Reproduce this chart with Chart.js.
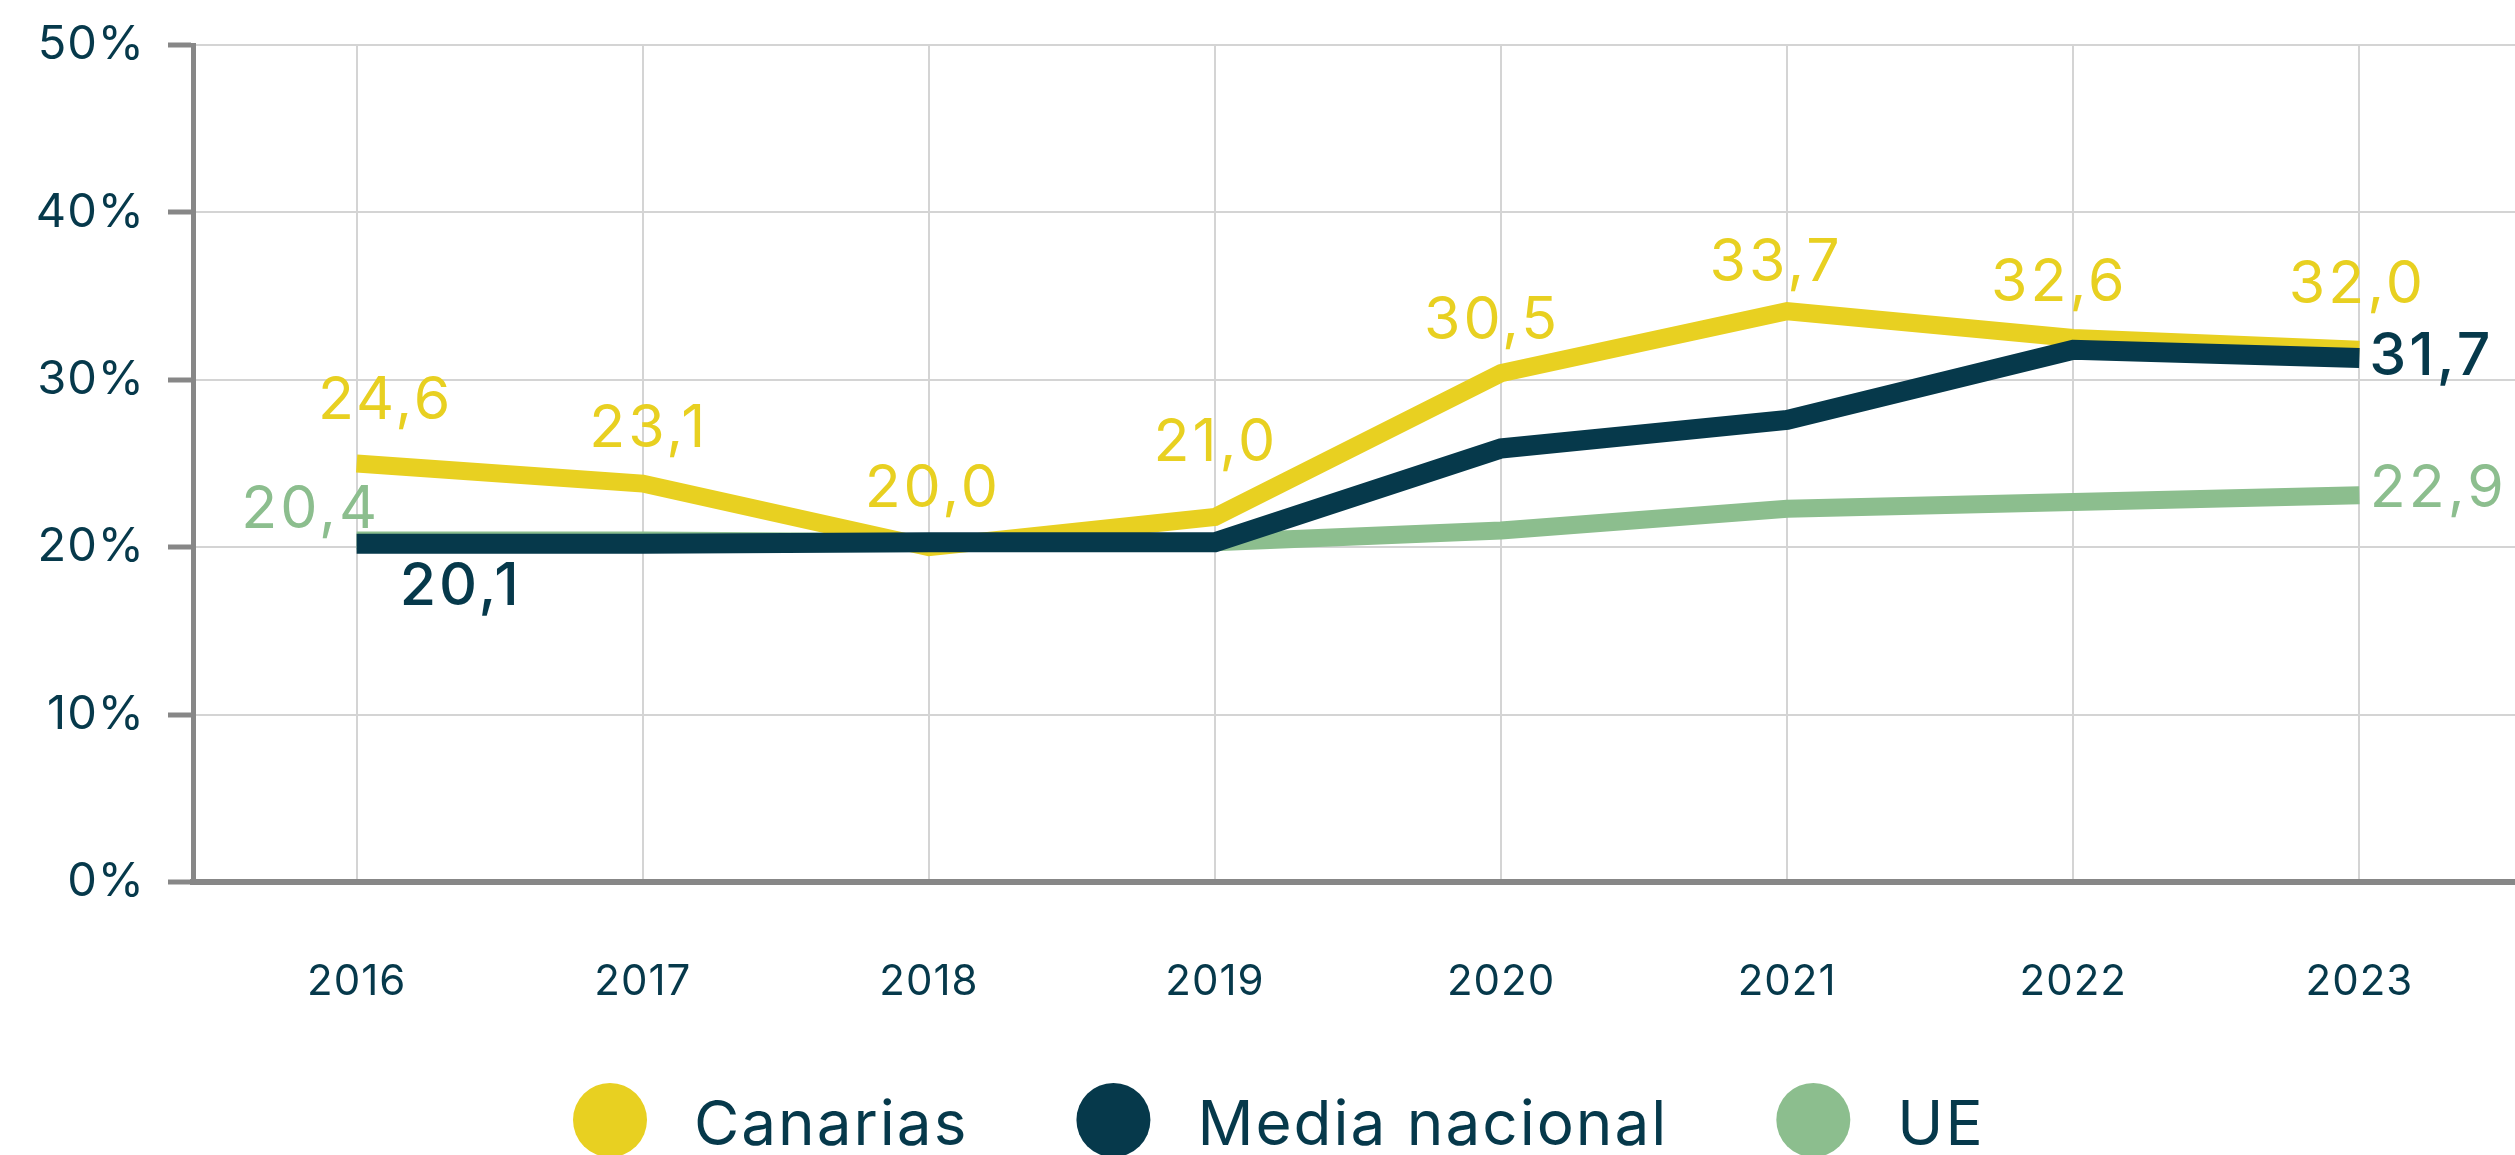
<!DOCTYPE html>
<html lang="es">
<head>
<meta charset="utf-8">
<title>Canarias, Media nacional y UE</title>
<script src="https://cdn.jsdelivr.net/npm/chart.js@4.4.1/dist/chart.umd.min.js"></script>
<style>
  html, body { margin: 0; padding: 0; background: #fff; overflow: hidden; }
  #chart { display: block; }
</style>
</head>
<body>
<canvas id="chart" width="2515" height="1155"></canvas>
<script>
// Data
const years = [2016, 2017, 2018, 2019, 2020, 2021, 2022, 2023];
const seriesNames = ['Canarias', 'Media nacional', 'UE'];

// values as the lines are drawn
const canarias = [25.0, 23.8, 20.0, 21.8, 30.4, 34.1, 32.5, 31.8];
const mediaNacional = [20.2, 20.2, 20.3, 20.3, 25.9, 27.6, 31.8, 31.3];
const ue = [20.4, 20.4, 20.3, 20.3, 21.0, 22.3, 22.7, 23.1];

// values printed beside the lines (null = no label)
const canariasLabels = [24.6, 23.1, 20.0, 21.0, 30.5, 33.7, 32.6, 32.0];
const mediaNacionalLabels = [20.1, null, null, null, null, null, null, 31.7];
const ueLabels = [20.4, null, null, null, null, null, null, 22.9];

const yTicks = [0, 10, 20, 30, 40, 50];

// Colours
const YELLOW = '#e8d021';
const DARK = '#06394b';
const GREEN = '#8cbe8e';
const AXIS = '#878787';
const GRID = '#d4d4d4';
const FONT = 'Inter';

// where each printed value sits relative to its point [dx, dy]
const labelOffsets = [
  [[29, -45], [6, -37], [4, -40], [1, -56], [-9, -34], [-11, -30], [-14, -37], [-2, -47]],
  [[104, 61], null, null, null, null, null, null, [72, 17]],
  [[-46, -13], null, null, null, null, null, null, [79, 12]]
];
const labelWeights = [400, 500, 400];

function toPoints(values) {
  return years.map((year, i) => ({ x: year, y: values[i] }));
}

function formatValue(v) {
  return v.toFixed(1).replace('.', ',');
}

// wider letter spacing for the axis labels
const spacing = {
  id: 'spacing',
  beforeDraw(chart) {
    chart.ctx.letterSpacing = '1px';
  }
};

// Printed values next to the lines
const valueLabels = {
  id: 'valueLabels',
  afterDatasetsDraw(chart) {
    const ctx = chart.ctx;
    const printed = [canariasLabels, mediaNacionalLabels, ueLabels];
    ctx.save();
    ctx.letterSpacing = '3px';
    ctx.textAlign = 'center';
    ctx.textBaseline = 'alphabetic';
    chart.data.datasets.forEach((ds, i) => {
      const meta = chart.getDatasetMeta(i);
      ctx.fillStyle = ds.borderColor;
      ctx.font = `${labelWeights[i]} 59px ${FONT}`;
      printed[i].forEach((v, j) => {
        if (v === null) return;
        const pt = meta.data[j];
        const off = labelOffsets[i][j];
        ctx.fillText(formatValue(v), pt.x + off[0], pt.y + off[1]);
      });
    });
    ctx.restore();
  }
};

// Legend with round markers under the chart
const circleLegend = {
  id: 'circleLegend',
  afterDraw(chart) {
    const ctx = chart.ctx;
    const r = 37;
    const textGap = 84;
    const itemGap = 108;
    const y = 1120;
    ctx.save();
    ctx.font = `62px ${FONT}`;
    ctx.letterSpacing = '2px';
    let x = 573;
    chart.data.datasets.forEach(ds => {
      ctx.fillStyle = ds.borderColor;
      ctx.beginPath();
      ctx.arc(x + r, y, r, 0, Math.PI * 2);
      ctx.fill();
      ctx.fillStyle = DARK;
      ctx.textBaseline = 'alphabetic';
      ctx.textAlign = 'left';
      ctx.fillText(ds.label, x + r + textGap, y + 25);
      x += r + textGap + ctx.measureText(ds.label).width + itemGap;
    });
    ctx.restore();
  }
};

const chart = new Chart(document.getElementById('chart'), {
  type: 'line',
  data: {
    datasets: [
      {
        label: seriesNames[0],
        data: toPoints(canarias),
        borderColor: YELLOW,
        backgroundColor: YELLOW,
        borderWidth: 18,
        order: 1
      },
      {
        label: seriesNames[1],
        data: toPoints(mediaNacional),
        borderColor: DARK,
        backgroundColor: DARK,
        borderWidth: 20,
        order: 0
      },
      {
        label: seriesNames[2],
        data: toPoints(ue),
        borderColor: GREEN,
        backgroundColor: GREEN,
        borderWidth: 18,
        order: 2
      }
    ]
  },
  options: {
    responsive: false,
    animation: false,
    layout: { padding: { top: 45, right: 0, bottom: 0, left: 0 } },
    elements: {
      point: { radius: 0, hoverRadius: 0 },
      line: { tension: 0, borderCapStyle: 'butt', borderJoinStyle: 'miter', fill: false }
    },
    plugins: {
      legend: { display: false },
      tooltip: { enabled: false }
    },
    scales: {
      x: {
        type: 'linear',
        min: 2015.428,
        max: 2023.544,
        afterBuildTicks: scale => { scale.ticks = years.map(v => ({ value: v })); },
        afterFit: scale => { scale.height = 273; },
        grid: { color: GRID, lineWidth: 2, drawTicks: false },
        border: { color: AXIS, width: 6 },
        ticks: {
          color: DARK,
          padding: 75,
          font: { family: FONT, size: 42 },
          callback: value => String(value)
        }
      },
      y: {
        min: 0,
        max: 50,
        afterBuildTicks: scale => { scale.ticks = yTicks.map(v => ({ value: v })); },
        afterFit: scale => {
          scale.width = 193;
          scale.paddingTop = 0;
          scale.paddingBottom = 0;
        },
        grid: { color: GRID, lineWidth: 2, tickColor: AXIS, tickWidth: 5, tickLength: 25 },
        border: { color: AXIS, width: 5 },
        ticks: {
          color: DARK,
          padding: 23,
          font: { family: FONT, size: 47 },
          callback: value => value + '%'
        }
      }
    }
  },
  plugins: [spacing, valueLabels, circleLegend]
});
</script>
</body>
</html>
